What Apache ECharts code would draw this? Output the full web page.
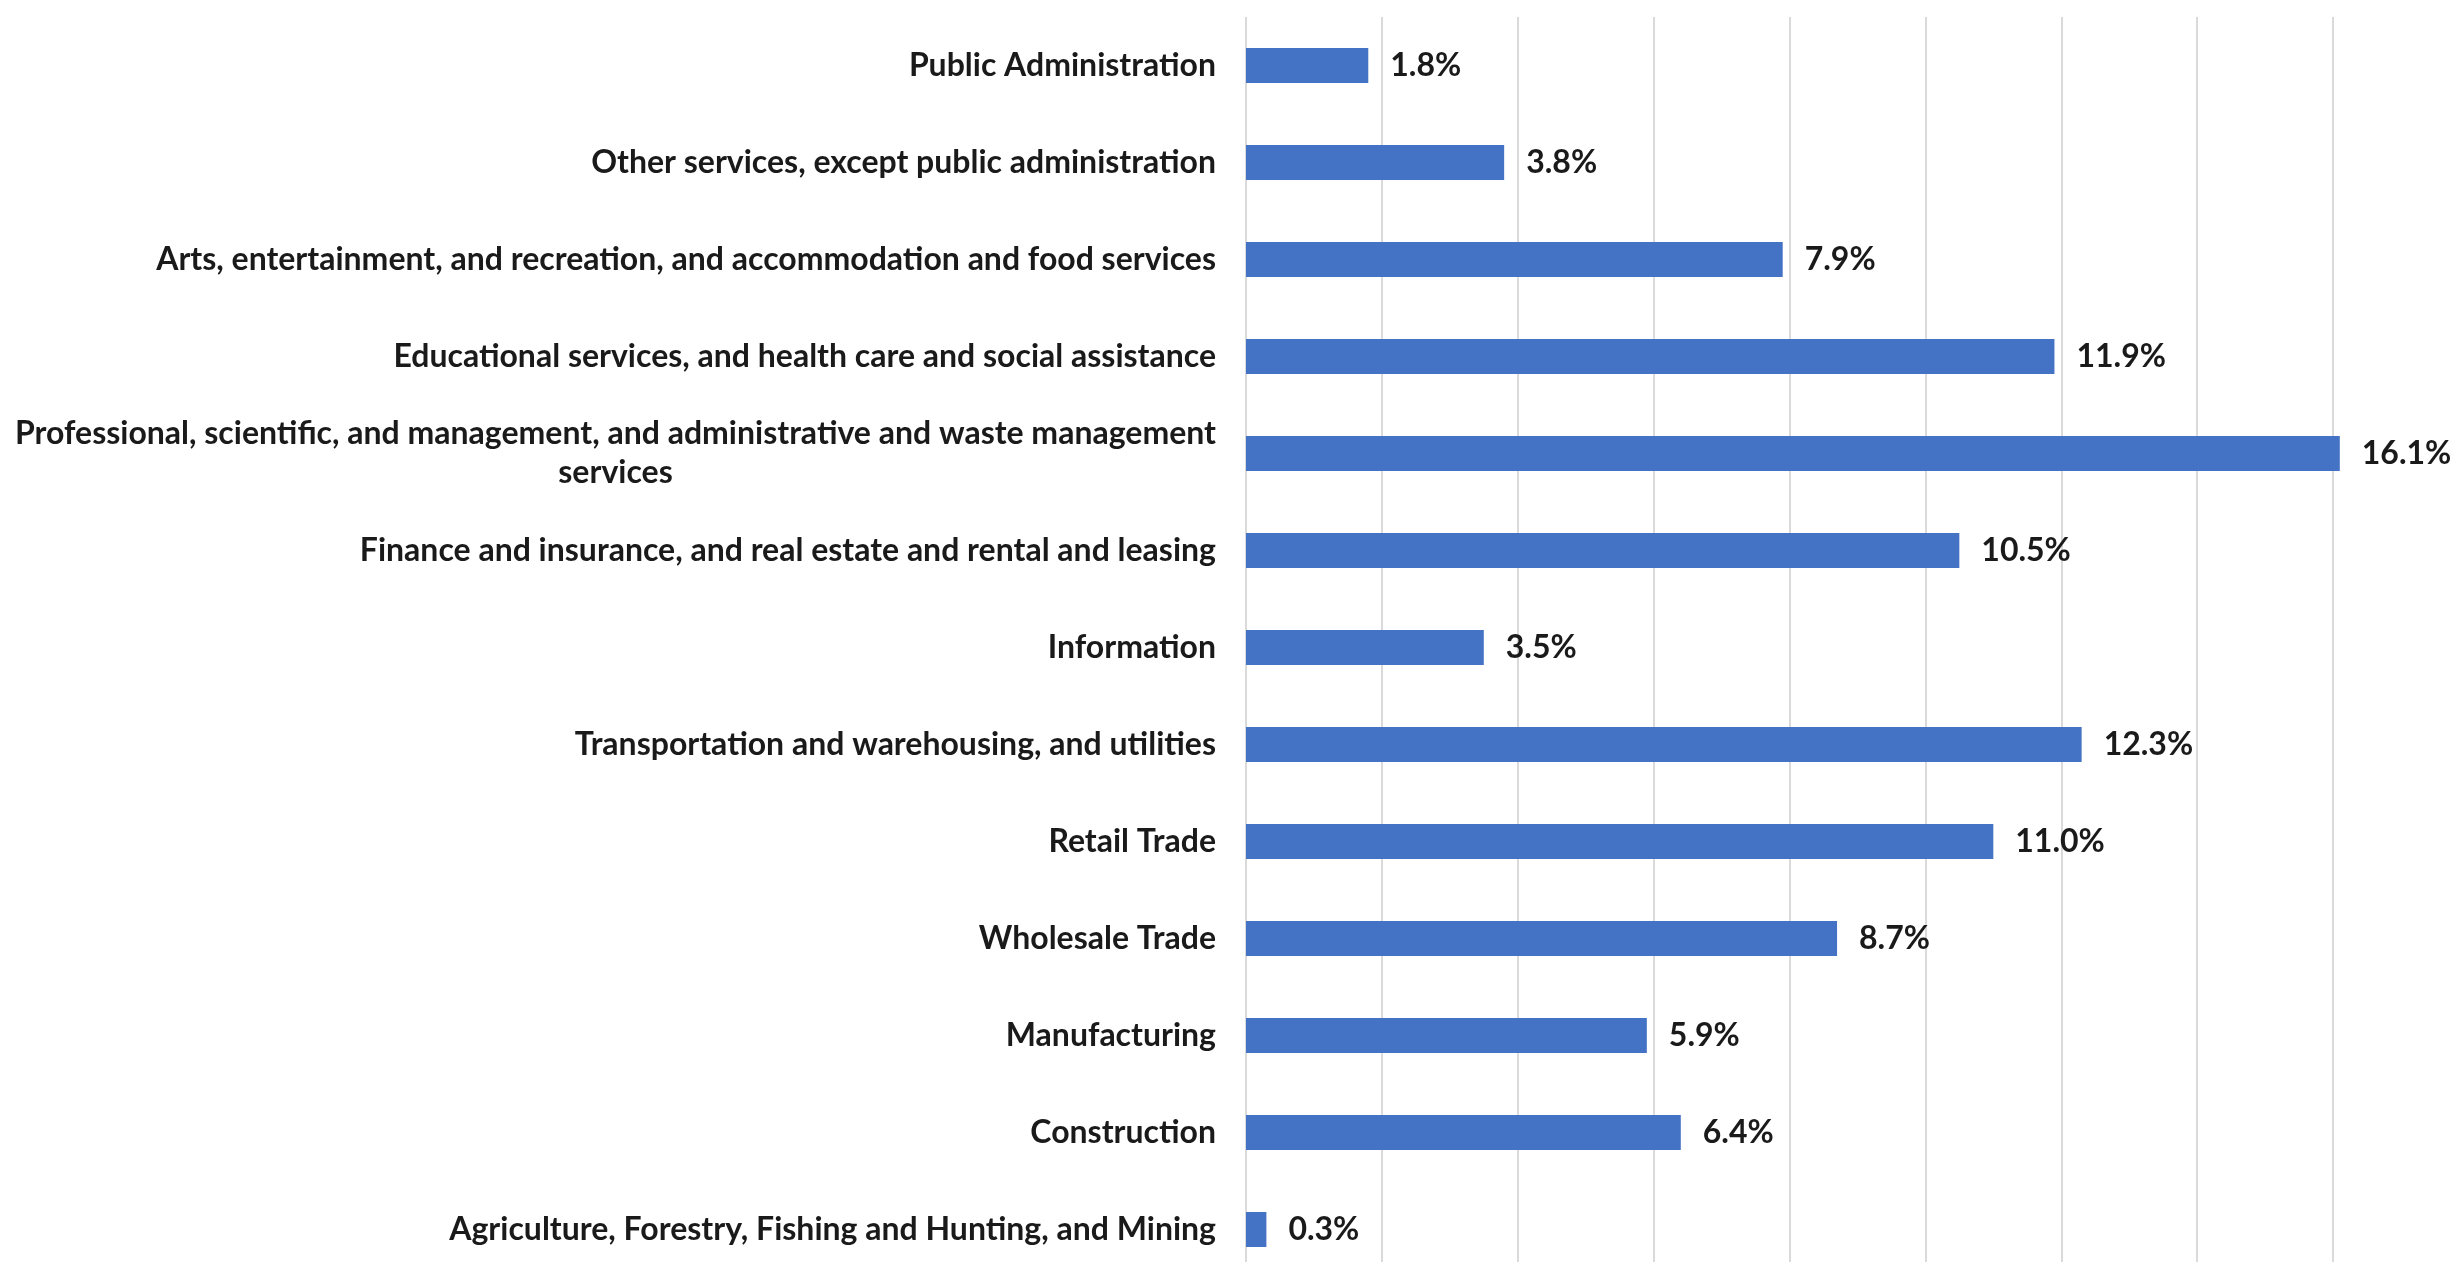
<!DOCTYPE html>
<html>
<head>
<meta charset="utf-8">
<title>Employment by industry</title>
<script src="https://cdn.jsdelivr.net/npm/echarts@6/dist/echarts.min.js"></script>
<style>
  html, body { margin: 0; padding: 0; background: #ffffff; overflow: hidden; }
  /* The plot runs slightly past the bottom edge of the window */
  #chart { width: 2452px; height: 1280px; }
</style>
</head>
<body>
<div id="chart"></div>
<script>
// Industry categories, listed top to bottom
const industries = [
  'Public Administration',
  'Other services, except public administration',
  'Arts, entertainment, and recreation, and accommodation and food services',
  'Educational services, and health care and social assistance',
  'Professional, scientific, and management, and administrative and waste management\nservices',
  'Finance and insurance, and real estate and rental and leasing',
  'Information',
  'Transportation and warehousing, and utilities',
  'Retail Trade',
  'Wholesale Trade',
  'Manufacturing',
  'Construction',
  'Agriculture, Forestry, Fishing and Hunting, and Mining'
];

// Share of workers in each industry (%)
const shares = [1.8, 3.8, 7.9, 11.9, 16.1, 10.5, 3.5, 12.3, 11.0, 8.7, 5.9, 6.4, 0.3];

// Value axis range (%)
const axisMin = 0;
const axisMax = 16;
const axisStep = 2;

const FONT = 'Lato, "Noto Sans", sans-serif';
const TEXT_COLOR = '#1a1a1a';
const FONT_SIZE = 32;

const chart = echarts.init(document.getElementById('chart'), null, { renderer: 'canvas' });

chart.setOption({
  animation: false,
  backgroundColor: '#ffffff',
  grid: {
    left: 1246,
    right: 119,
    top: 17,
    bottom: 2,
    containLabel: false
  },
  xAxis: {
    type: 'value',
    min: axisMin,
    max: axisMax,
    interval: axisStep,
    axisLabel: { show: false },
    axisLine: { show: false },
    axisTick: { show: false },
    splitLine: { show: true, lineStyle: { color: '#dadada', width: 2 } }
  },
  yAxis: {
    type: 'category',
    inverse: true,
    data: industries,
    axisLine: { show: false },
    axisTick: { show: false },
    axisLabel: {
      margin: 30,
      align: 'right',
      fontFamily: FONT,
      fontWeight: 'bold',
      fontSize: FONT_SIZE,
      color: TEXT_COLOR,
      lineHeight: 39,
      formatter: function (value) {
        if (value.indexOf('\n') < 0) {
          return value;
        }
        // Wrapped label: both lines centred within the label block
        return value.split('\n').map(function (line) {
          return '{c|' + line + '}';
        }).join('\n');
      },
      rich: {
        c: {
          align: 'center',
          fontFamily: FONT,
          fontWeight: 'bold',
          fontSize: FONT_SIZE,
          color: TEXT_COLOR,
          lineHeight: 39
        }
      }
    }
  },
  series: [{
    type: 'bar',
    data: shares,
    barWidth: 35,
    clip: false,
    itemStyle: { color: '#4472c4' },
    label: {
      show: true,
      position: 'right',
      distance: 22,
      fontFamily: FONT,
      fontWeight: 'bold',
      fontSize: FONT_SIZE,
      color: TEXT_COLOR,
      formatter: function (p) {
        return p.value.toFixed(1) + '%';
      }
    }
  }]
});
</script>
</body>
</html>
